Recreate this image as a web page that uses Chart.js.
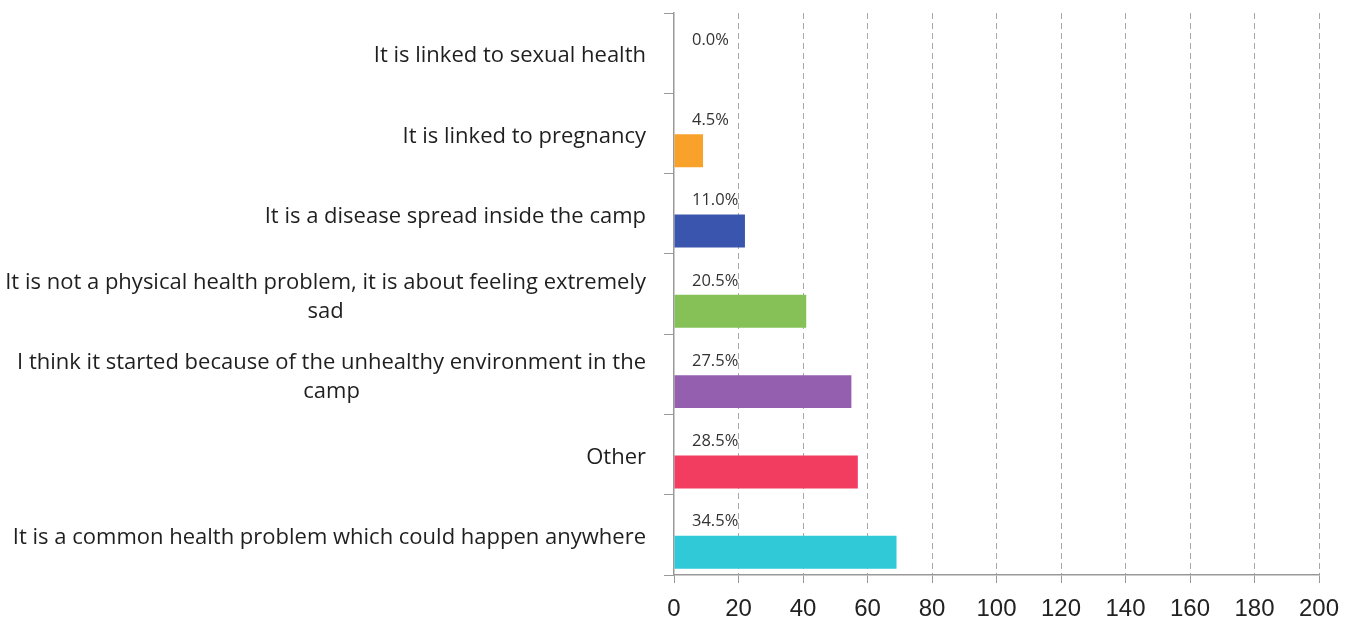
<!DOCTYPE html>
<html>
<head>
<meta charset="utf-8">
<script src="https://cdn.jsdelivr.net/npm/chart.js@4/dist/chart.umd.min.js"></script>
<style>
  html, body { margin: 0; padding: 0; background: #fff; }
  #wrap { width: 1355px; height: 623px; position: relative; }
</style>
</head>
<body>
<div id="wrap"><canvas id="chart-causes"></canvas></div>
<script>
const categories = [
  'It is linked to sexual health',
  'It is linked to pregnancy',
  'It is a disease spread inside the camp',
  ['It is not a physical health problem, it is about feeling extremely', 'sad'],
  ['I think it started because of the unhealthy environment in the', 'camp'],
  'Other',
  'It is a common health problem which could happen anywhere'
];
const counts = [0, 9, 22, 41, 55, 57, 69];
const respondents = 200;
const barColors = ['#f8a22c', '#f8a22c', '#3a55ae', '#85c157', '#935fae', '#f23d61', '#2fc9d7'];
const xTicks = [0, 20, 40, 60, 80, 100, 120, 140, 160, 180, 200];

// category names drawn by hand so wrapped lines sit centred under each other
const categoryLabels = {
  id: 'categoryLabels',
  afterDraw(chart) {
    const { ctx } = chart;
    const yScale = chart.scales.y;
    const right = 646;
    ctx.save();
    ctx.font = '22px "Open Sans"';
    ctx.fillStyle = '#1f1f1f';
    ctx.textAlign = 'center';
    ctx.textBaseline = 'middle';
    chart.data.labels.forEach((lbl, i) => {
      const lines = Array.isArray(lbl) ? lbl : [lbl];
      const cy = yScale.getPixelForValue(i) + 3;
      const w = Math.max(...lines.map(l => ctx.measureText(l).width));
      const cx = right - w / 2;
      lines.forEach((l, j) => {
        ctx.fillText(l, cx, cy + (j - (lines.length - 1) / 2) * 29);
      });
    });
    ctx.restore();
  }
};

// percentage of respondents written above each bar
const pctLabels = {
  id: 'pctLabels',
  afterDatasetsDraw(chart) {
    const { ctx } = chart;
    const meta = chart.getDatasetMeta(1);
    ctx.save();
    ctx.font = '16.5px "Open Sans"';
    ctx.fillStyle = '#333';
    ctx.textAlign = 'left';
    ctx.textBaseline = 'middle';
    meta.data.forEach((bar, i) => {
      const pct = (counts[i] / respondents * 100).toFixed(1) + '%';
      const top = bar.y - bar.height / 2;
      ctx.fillText(pct, chart.chartArea.left + 18, top - 14);
    });
    ctx.restore();
  }
};

const config = {
  type: 'bar',
  data: {
    labels: categories,
    datasets: [
      {
        // empty slot keeps each bar in the lower part of its row
        data: categories.map(() => null),
        backgroundColor: 'transparent'
      },
      {
        data: counts,
        backgroundColor: barColors,
        borderWidth: 0
      }
    ]
  },
  options: {
    indexAxis: 'y',
    responsive: true,
    maintainAspectRatio: false,
    animation: false,
    categoryPercentage: 0.864,
    barPercentage: 0.95,
    layout: { padding: { top: 13, right: 36, left: 0, bottom: 0 } },
    plugins: {
      legend: { display: false },
      tooltip: { enabled: false }
    },
    scales: {
      x: {
        min: 0,
        max: 200,
        afterBuildTicks: (scale) => { scale.ticks = xTicks.map(v => ({ value: v })); },
        afterFit: (scale) => { scale.height = 48; },
        ticks: {
          color: '#222',
          font: { family: 'Liberation Sans', size: 24 },
          padding: 12
        },
        grid: {
          color: (c) => c.index === 0 ? 'transparent' : '#a8a8a8',
          lineWidth: 1,
          tickLength: 8,
          tickColor: '#999',
          tickBorderDash: []
        },
        border: { color: '#999', width: 1.5, dash: [6, 4] }
      },
      y: {
        offset: true,
        afterFit: (scale) => { scale.width = 674; },
        ticks: { display: false },
        grid: {
          drawOnChartArea: false,
          offset: true,
          tickLength: 10,
          tickColor: '#999'
        },
        border: { color: '#999', width: 1.5 }
      }
    }
  },
  plugins: [categoryLabels, pctLabels]
};

const chartCauses = new Chart(document.getElementById('chart-causes'), config);
</script>
</body>
</html>
